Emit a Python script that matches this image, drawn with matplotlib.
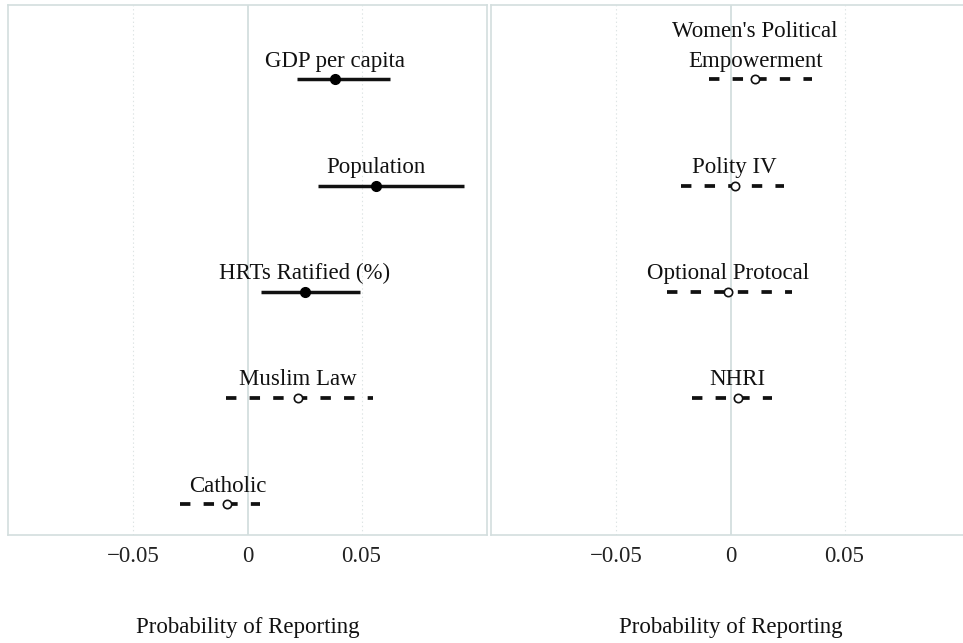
import matplotlib
matplotlib.use("Agg")
from matplotlib import pyplot as plt

plt.rcParams['font.family'] = ['Liberation Serif', 'DejaVu Serif']
plt.rcParams['lines.scale_dashes'] = False

# left panel
left_labels = ["GDP per capita", "Population", "HRTs Ratified (%)", "Muslim Law", "Catholic"]
left_est = [0.0382, 0.0563, 0.0251, 0.0221, -0.0088]
left_lo = [0.0219, 0.0311, 0.0061, -0.0096, -0.0294]
left_hi = [0.0623, 0.0947, 0.0494, 0.0551, 0.0054]
left_sig = [True, True, True, False, False]

# right panel
right_labels = ["Women's Political\nEmpowerment", "Polity IV", "Optional Protocal", "NHRI"]
right_est = [0.0108, 0.0018, -0.0012, 0.0031]
right_lo = [-0.0093, -0.0215, -0.0278, -0.0170]
right_hi = [0.0356, 0.0235, 0.0270, 0.0180]
right_sig = [False, False, False, False]

ticks = [-0.05, 0, 0.05]
tick_labels = ["\u22120.05", "0", "0.05"]

W, H = 963, 643
fig = plt.figure(figsize=(W / 100, H / 100), dpi=100)
ax_l = fig.add_axes([8 / W, 1 - 535 / H, 479 / W, 530 / H])
ax_r = fig.add_axes([491 / W, 1 - 535 / H, 479 / W, 530 / H])

grid_col = "#cfdcdc"
fs = 16.5


def draw_panel(ax, labels, est, lo, hi, sig):
    n = len(labels)
    for i in range(n):
        y = 4 - i
        if sig[i]:
            ax.plot([lo[i], hi[i]], [y, y], color="#111111", lw=2.5, solid_capstyle="butt", zorder=3)
            ax.plot(est[i], y, "o", color="black", ms=7, zorder=4)
        else:
            ax.plot([lo[i], hi[i]], [y, y], color="#111111", lw=2.7,
                    linestyle=(0, (7.5, 9.5)), dash_capstyle="butt", zorder=3)
            ax.plot(est[i], y, "o", mfc="white", mec="#111111", mew=1.2, ms=6, zorder=4)
        ax.annotate(labels[i], (est[i], y), xytext=(0, 9), textcoords="offset points",
                    ha="center", va="baseline", fontsize=fs, color="#111111",
                    linespacing=1.55, multialignment="center")
    ax.set_xlim(-0.105, 0.105)
    ax.set_ylim(-0.29, 4.70)
    ax.axvline(0, color=grid_col, lw=1.2, zorder=1)
    for t in (-0.05, 0.05):
        ax.axvline(t, color="#dde4e4", lw=0.8, linestyle=(0, (1, 2)), zorder=1)
    ax.set_yticks([])
    ax.set_xticks(ticks)
    ax.set_xticklabels(tick_labels, fontsize=fs, color="#222222")
    ax.tick_params(axis="x", length=0, pad=8)
    for s in ax.spines.values():
        s.set_color("#d3dede")
        s.set_linewidth(1.2)
    ax.set_xlabel("Probability of Reporting", fontsize=fs, color="#111111", labelpad=36)


draw_panel(ax_l, left_labels, left_est, left_lo, left_hi, left_sig)
draw_panel(ax_r, right_labels, right_est, right_lo, right_hi, right_sig)

fig.savefig("out.png", dpi=100, facecolor="white")
